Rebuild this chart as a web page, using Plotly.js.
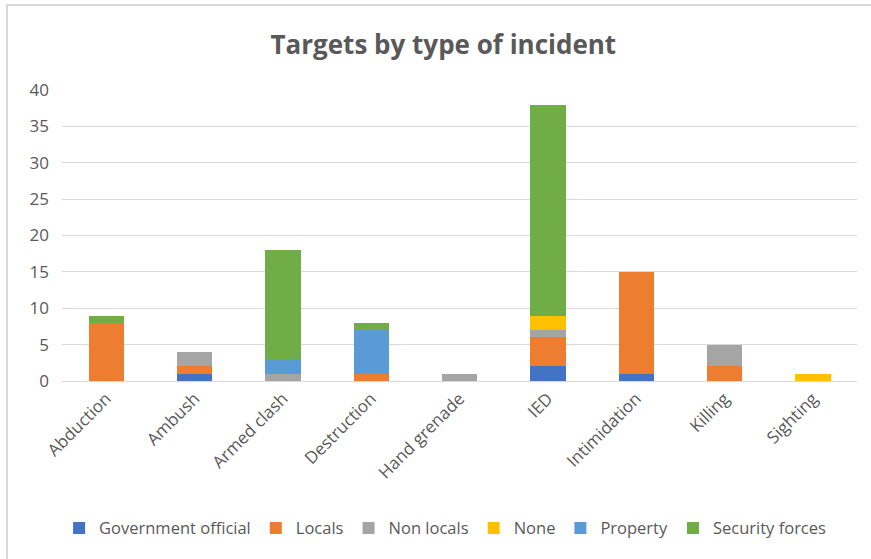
<!DOCTYPE html>
<html>
<head>
<meta charset="utf-8">
<script src="https://cdn.plot.ly/plotly-3.0.1.min.js"></script>
<style>
html,body{margin:0;padding:0;background:#fff;}
#wrap{position:relative;width:871px;height:559px;overflow:hidden;}
#chart{position:absolute;left:0;top:0;width:871px;height:559px;}
#frame{position:absolute;left:6px;top:4px;width:900px;height:600px;border-left:2px solid #d9d9d9;border-top:2px solid #d9d9d9;pointer-events:none;}
</style>
</head>
<body>
<div id="wrap"><div id="chart"></div><div id="frame"></div></div>
<script>
const categories = ["Abduction","Ambush","Armed clash","Destruction","Hand grenade","IED","Intimidation","Killing","Sighting"];
const governmentOfficial = [0,1,0,0,0,2,1,0,0];
const locals            = [8,1,0,1,0,4,14,2,0];
const nonLocals         = [0,2,1,0,1,1,0,3,0];
const none              = [0,0,0,0,0,2,0,0,1];
const property          = [0,0,2,6,0,0,0,0,0];
const securityForces    = [1,0,15,1,0,29,0,0,0];

const seriesNames = ["Government official","Locals","Non locals","None","Property","Security forces"];
const seriesValues = [governmentOfficial, locals, nonLocals, none, property, securityForces];
const colors = ["#4472C4","#ED7D31","#A5A5A5","#FFC000","#5B9BD5","#70AD47"];

const traces = seriesNames.map((n,i)=>({
  type:'bar', name:n, x:categories, y:seriesValues[i],
  marker:{color:colors[i], line:{width:0}},
  hoverinfo:'x+y+name'
}));

const font = "'Open Sans', 'Noto Sans', sans-serif";
const layout = {
  width:871, height:559,
  barmode:'stack', bargap:0.6,
  paper_bgcolor:'#fff', plot_bgcolor:'#fff',
  margin:{l:62, r:14, t:90, b:178},
  title:{text:'<b>Targets by type of incident</b>', font:{family:font, size:26, color:'#595959'}, x:0.509, xanchor:'center', xref:'container', yref:'container', y:0.92, yanchor:'middle'},
  xaxis:{type:'category', tickangle:-45, tickfont:{family:font, size:17, color:'#595959'},
    showline:true, linecolor:'#d9d9d9', linewidth:1, ticks:'', showgrid:false, automargin:false},
  yaxis:{range:[0,40], dtick:5, tickfont:{family:font, size:17, color:'#595959'},
    gridcolor:'#d9d9d9', gridwidth:1, zeroline:false, showline:false, ticks:'', ticklabelstandoff:12, automargin:false},
  legend:{orientation:'h', x:0.511, xanchor:'center', xref:'container', yref:'container', y:0.055, yanchor:'middle',
    font:{family:font, size:16.5, color:'#595959'}, traceorder:'normal', itemwidth:30},
  showlegend:true
};
Plotly.newPlot('chart', traces, layout, {displayModeBar:false, staticPlot:true});
</script>
</body>
</html>
